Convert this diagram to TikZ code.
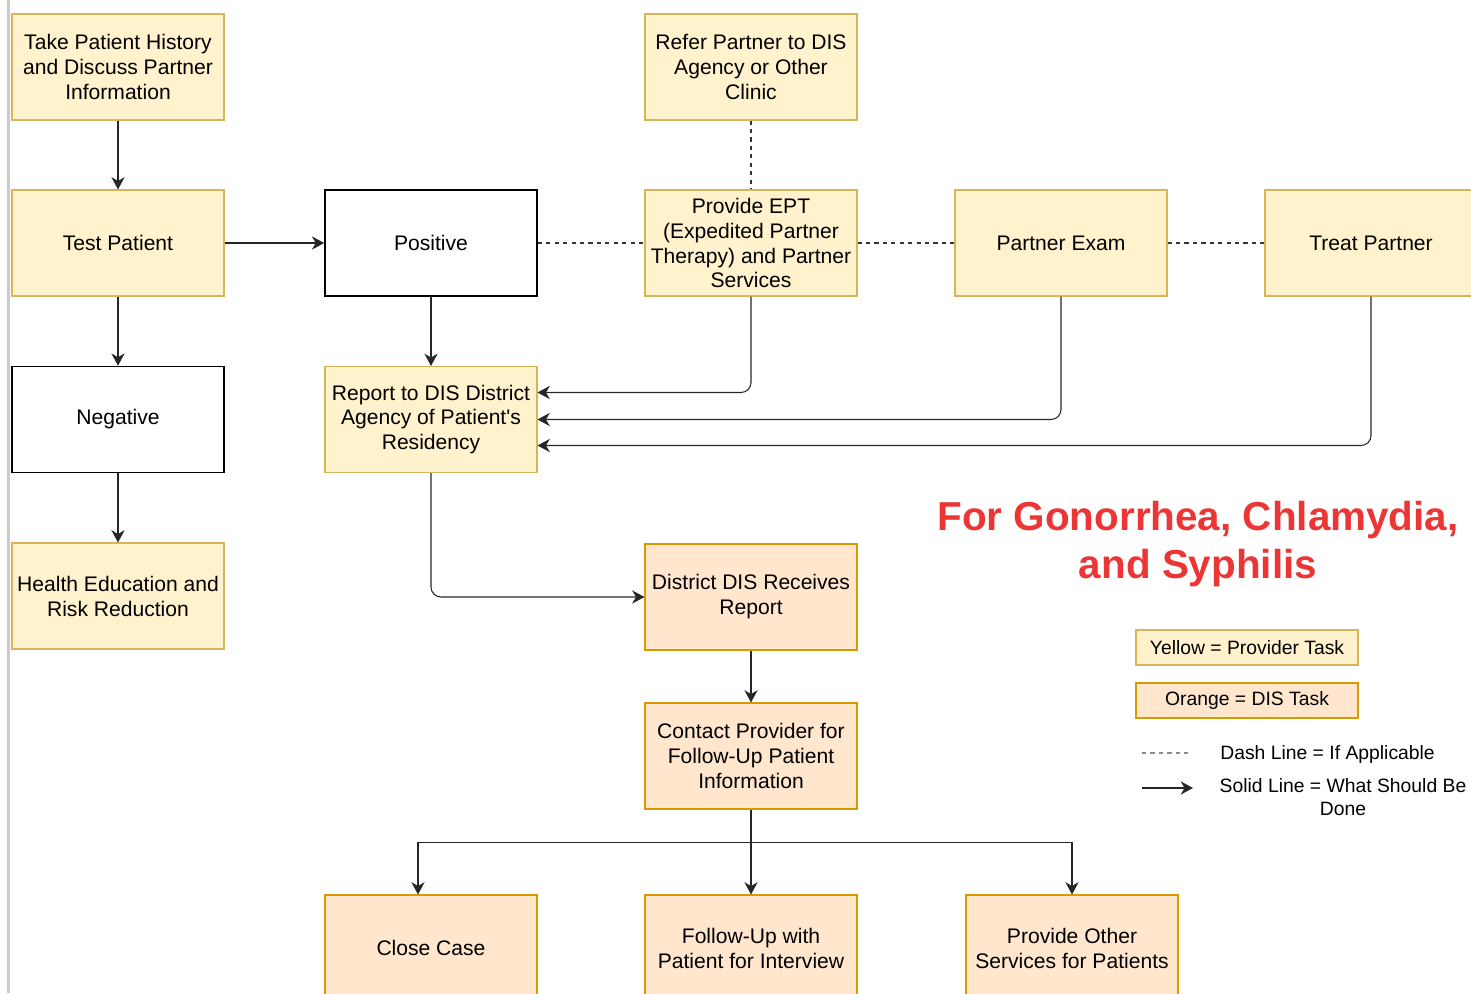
\documentclass[tikz,border=0pt]{standalone}
\usepackage{fontspec}
\setmainfont{Liberation Sans}
\usepackage{tikz}
\usetikzlibrary{arrows,arrows.meta,positioning}
\definecolor{provfill}{HTML}{FFF2CC}
\definecolor{provline}{HTML}{D6B656}
\definecolor{disfill}{HTML}{FFE6CC}
\definecolor{disline}{HTML}{D79B00}
\definecolor{titlered}{RGB}{236,54,54}

\begin{document}
\begin{tikzpicture}[
    auto,
    node distance=3.53cm,
    >={Stealth[length=7pt,width=7.5pt,inset=2.2pt]},
    font=\fontsize{12}{14.2}\selectfont,
    task/.style={
		rectangle,
		draw=provline,
		fill=provfill,
		line width=0.6pt,
		align=center,
		inner sep=0pt,
		minimum width=4.24cm,
		minimum height=2.12cm
	},
	distask/.style={task, draw=disline, fill=disfill},
	result/.style={task, draw=black, fill=white, line width=0.9pt},
	keybox/.style={minimum width=4.44cm, minimum height=0.70cm,
		font=\fontsize{11}{13}\selectfont},
	keytext/.style={inner sep=0pt, font=\fontsize{11}{13}\selectfont},
	heading/.style={align=center, text=titlered,
		font=\fontsize{23}{27.8}\selectfont\bfseries},
	link/.style={draw=black!85, line width=0.6pt},
	iflink/.style={draw=black!80, line width=0.6pt, dash pattern=on 2.4pt off 2.4pt}
  ]
  \useasboundingbox (0,0) rectangle (29.42,-19.86);
  \clip (0,0) rectangle (29.42,-19.86);
  \draw [draw=black!20, line width=1.2pt] (0.17,0) -- (0.17,-19.86);

    % We start by placing the blocks
  \node [task] (history) at (2.36,-1.34)
  {Take Patient History\\and Discuss Partner\\Information};
  \node [task, below of=history, node distance=3.52cm] (test) {Test Patient};
  \node [result, below of=test] (negative) {Negative};
  \node [task, below of=negative] (health) {Health Education and\\Risk Reduction};

  \node [result, right of=test, node distance=6.26cm] (positive) {Positive};
  \node [task, below of=positive] (report)
  {Report to DIS District\\Agency of Patient\textquotesingle s\\Residency};

  \node [task, right of=positive, node distance=6.40cm] (ept)
  {Provide EPT\\(Expedited Partner\\Therapy) and Partner\\Services};
  \node [task, above of=ept, node distance=3.52cm] (refer)
  {Refer Partner to DIS\\Agency or Other\\Clinic};
  \node [task, right of=ept, node distance=6.20cm] (exam) {Partner Exam};
  \node [task, right of=exam, node distance=6.20cm] (treat) {Treat Partner};

  \node [distask, below of=ept, node distance=7.08cm] (district)
  {District DIS Receives\\Report};
  \node [distask, below of=district, node distance=3.18cm] (contact)
  {Contact Provider for\\Follow-Up Patient\\Information};
  \node [distask, below of=contact, node distance=3.84cm] (follow)
  {Follow-Up with\\Patient for Interview};
  \node [distask, left of=follow, node distance=6.40cm] (close) {Close Case};
  \node [distask, right of=follow, node distance=6.42cm] (other)
  {Provide Other\\Services for Patients};

  % title and legend
  \node [heading] (title) at (23.96,-10.88) {For Gonorrhea, Chlamydia,\\and Syphilis};
  \node [task, keybox] (keyprov) at (24.94,-12.95) {Yellow = Provider Task};
  \node [distask, keybox] (keydis) at (24.94,-14.01) {Orange = DIS Task};
  \node [keytext, anchor=west] (keydash) at (24.40,-15.08) {Dash Line = If Applicable};
  \node [keytext, align=center] (keysolid) at (26.86,-15.95) {Solid Line = What Should Be\\Done};
  \coordinate (dashA) at (22.84,-15.06);
  \coordinate (dashB) at (23.80,-15.06);
  \coordinate (solidA) at (22.84,-15.76);
  \coordinate (solidB) at (23.86,-15.76);

  % connectors
  \draw [link,->] (history) -- (test);
  \draw [link,->] (test) -- (positive);
  \draw [link,->] (test) -- (negative);
  \draw [link,->] (negative) -- (health);
  \draw [link,->] (positive) -- (report);
  \draw [iflink] (positive) -- (ept);
  \draw [iflink] (ept) -- (exam);
  \draw [iflink] (exam) -- (treat);
  \draw [iflink] (refer) -- (ept);
  \draw [link,->, rounded corners=0.2cm] (ept) |- ([yshift=0.54cm]report.east);
  \draw [link,->, rounded corners=0.2cm] (exam) |- (report);
  \draw [link,->, rounded corners=0.2cm] (treat) |- ([yshift=-0.52cm]report.east);
  \draw [link,->, rounded corners=0.2cm] (report) |- (district);
  \draw [link,->] (district) -- (contact);
  \draw [link,->] (contact) -- (follow);
  \coordinate [below=0.66cm of contact] (branch);
  \draw [link,->] (branch) -| ([xshift=-0.26cm]close.north);
  \draw [link,->] (branch) -| (other.north);

  \draw [iflink, draw=black!45] (dashA) -- (dashB);
  \draw [link,->] (solidA) -- (solidB);

\end{tikzpicture}
\end{document}
